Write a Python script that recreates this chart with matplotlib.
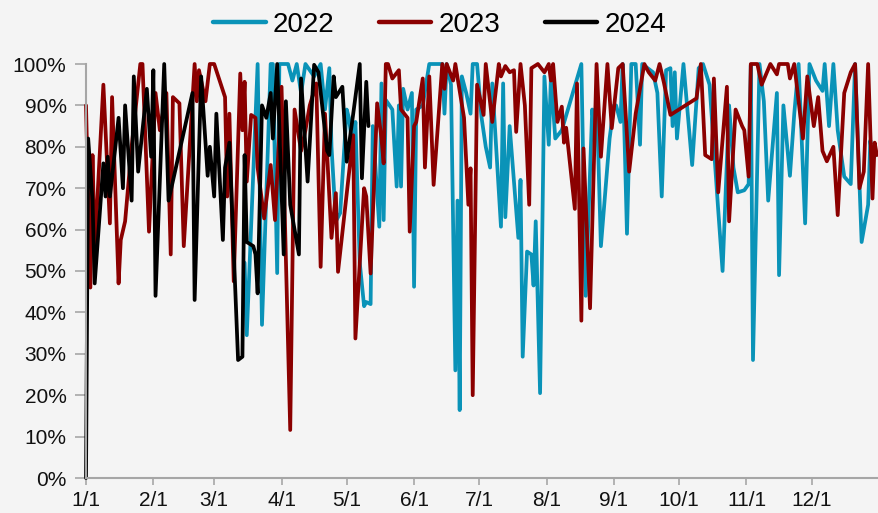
import matplotlib
matplotlib.use("Agg")
import matplotlib.pyplot as plt
from matplotlib import font_manager as fm
from matplotlib.ticker import FuncFormatter
import numpy as np

# ---------------- data (day of year, value %) ----------------
d22 = [73, 74, 79, 81, 85, 86, 88, 89, 93, 95, 97, 99, 101, 105, 108, 110, 112, 113, 115, 117,
       120, 121, 123, 124, 126, 128, 129, 131, 132, 135, 136, 137, 138, 141, 143, 144, 145, 146, 148, 150,
       151, 152, 155, 158, 160, 164, 165, 166, 168, 170, 171, 172, 173, 175, 177, 178, 180, 182, 184, 186,
       187, 191, 192, 193, 195, 199, 200, 201, 203, 205, 206, 207, 209, 211, 213, 214, 216, 219, 228, 230,
       233, 234, 235, 237, 241, 243, 244, 246, 247, 249, 251, 253, 255, 256, 261, 263, 265, 267, 269, 270,
       271, 272, 275, 279, 282, 284, 287, 291, 293, 296, 298, 300, 303, 305, 306, 307, 310, 312, 314, 318,
       319, 321, 324, 326, 328, 331, 333, 336, 339, 340, 342, 344, 346, 349, 352, 354, 357, 360, 361, 362, 364]
v22 = [52, 34.5, 100, 37, 100, 100, 49.5, 100, 100, 96, 100, 93, 100, 97, 100, 89, 99, 80, 62, 64,
       89, 87, 79, 86, 52, 41.5, 42.5, 42, 85, 60.7, 95.3, 62.3, 91.3, 89, 70.4, 90, 70.4, 94, 89, 93,
       46.2, 89, 90, 100, 100, 100, 88, 100, 95, 26, 67, 16.4, 97, 93, 88, 100, 100, 87.3, 80, 75,
       95.3, 60.7, 95.3, 63, 85, 58, 72, 29.3, 54.7, 54, 46.5, 62, 20.5, 97, 80.5, 97, 82, 84, 100, 44,
       89, 84, 92.5, 56, 82, 90, 90, 86, 100, 59, 100, 100, 80.5, 100, 98, 93, 68, 98.5, 99, 85,
       98, 82, 100, 75.6, 99, 100, 95, 64.7, 50, 90, 75, 69, 69.5, 71, 99.7, 28.5, 100, 91, 67, 93,
       49, 90, 73, 88, 100, 61.5, 100, 96, 93.5, 100, 85, 100, 84, 72.8, 71, 100, 57, 66, 81.5, 77, 78.5]

d23 = [0, 2, 3, 4, 8, 11, 12, 15, 16, 18, 21, 25, 26, 29, 32, 34, 37, 39, 40, 43,
       45, 50, 51, 52, 55, 57, 59, 64, 65, 66, 68, 71, 72, 73, 74, 76, 78, 79, 82, 85,
       87, 90, 94, 96, 99, 101, 103, 106, 108, 110, 113, 115, 116, 123, 124, 126, 128, 129, 131, 134,
       136, 137, 138, 139, 141, 144, 145, 148, 149, 151, 152, 155, 156, 158, 160, 164, 165, 166, 169, 170,
       174, 176, 177, 178, 180, 183, 184, 187, 190, 191, 193, 195, 197, 198, 200, 202, 204, 205, 208, 211,
       213, 214, 215, 217, 219, 220, 221, 225, 226, 228, 229, 232, 235, 237, 240, 242, 245, 247, 250, 253,
       257, 259, 262, 264, 266, 269, 281, 283, 285, 288, 289, 291, 295, 296, 299, 302, 303, 305, 306, 309,
       311, 315, 318, 319, 323, 324, 326, 330, 332, 335, 337, 339, 341, 344, 346, 349, 352, 354, 356, 358,
       360, 362, 363, 364]
v23 = [90, 46, 78, 55, 95, 61.5, 92, 47, 57.5, 62, 80, 100, 100, 59.5, 93, 84, 93, 54, 92, 90.5,
       56, 100, 91, 98.5, 91, 100, 100, 92, 68, 88, 47.5, 97.7, 84, 95.7, 71.6, 87.7, 87, 75, 62.7, 75.6,
       62.3, 94.5, 11.6, 89, 79, 84, 90, 95.3, 51, 88, 58, 68.8, 49.8, 82.8, 33.7, 52, 70, 68, 49.4, 90.5,
       82, 76, 100, 100, 96.5, 98.5, 89, 87, 59.5, 85, 86, 96.5, 75, 97, 70.8, 100, 94, 100, 96, 100,
       87, 66, 74.8, 20, 95, 87.7, 100, 86, 100, 97, 99.5, 98, 98.5, 83.6, 100, 90, 66, 99, 100, 98,
       100, 96, 100, 86, 89.7, 81, 84.6, 65, 95.3, 38, 79.6, 41, 100, 77.6, 100, 84.5, 99, 100, 74, 88,
       100, 98, 96, 100, 95.5, 87.7, 91.7, 100, 78, 77, 96.5, 69, 94.5, 62, 89, 85, 84, 72.8, 100, 100,
       95, 100, 97.5, 100, 100, 96.5, 100, 82, 97, 85, 92, 79, 76.5, 80, 63.5, 93, 98, 100, 70, 74,
       100, 67.5, 81, 78]

d24 = [0, 1, 3, 4, 8, 9, 10, 11, 15, 17, 18, 21, 22, 24, 28, 30, 31, 32, 36, 38,
       49, 50, 53, 56, 57, 59, 60, 63, 64, 66, 70, 72, 73, 74, 77, 78, 79, 81, 83, 85,
       86, 88, 91, 92, 94, 96, 98, 99, 102, 105, 107, 111, 112, 114, 115, 118, 120, 123, 126, 127,
       129, 130]
v24 = [0, 82, 67, 47, 76, 68, 77.6, 68, 87, 70, 90, 67, 97, 74, 94, 77.6, 98.5, 44, 100, 67,
       93, 43, 97, 73, 80, 68, 88, 57.5, 75, 81, 28.5, 29.3, 78, 57, 56, 54, 44.6, 90, 87, 93,
       82, 100, 54, 91, 66, 60, 54, 96.5, 71.6, 99.8, 98, 79, 78, 97, 92, 94.5, 76.4, 88, 100, 72.4,
       95.7, 85]

month_days = [0, 31, 59, 90, 120, 151, 181, 212, 243, 273, 304, 334]
month_labels = ["1/1", "2/1", "3/1", "4/1", "5/1", "6/1", "7/1", "8/1", "9/1", "10/1", "11/1", "12/1"]
series_names = ["2022", "2023", "2024"]

# ---------------- style ----------------
avail = {f.name for f in fm.fontManager.ttflist}
fam = "Liberation Sans Narrow" if "Liberation Sans Narrow" in avail else "Liberation Sans"
plt.rcParams["font.family"] = [fam, "DejaVu Sans"]

bg = "#f4f4f4"
colors = ["#0a93b8", "#8b0000", "#000000"]

fig = plt.figure(figsize=(8.79, 5.13), dpi=100, facecolor=bg)
ax = fig.add_axes([86 / 879, 35 / 513, 1 - 86 / 879, (478 - 64) / 513])
ax.set_facecolor(bg)

for d, v, c, n in zip([d22, d23, d24], [v22, v23, v24], colors, series_names):
    ax.plot(d, np.array(v) / 100.0, color=c, lw=2.7, label=n, clip_on=False,
            solid_joinstyle="round", solid_capstyle="round")

ax.set_xlim(0, 365)
ax.set_ylim(0, 1)
ax.set_yticks(np.arange(0, 1.01, 0.1))
ax.yaxis.set_major_formatter(FuncFormatter(lambda y, _: f"{y * 100:.0f}%"))
ax.set_xticks(month_days)
ax.set_xticklabels(month_labels)

for s in ["top", "right"]:
    ax.spines[s].set_visible(False)
for s in ["left", "bottom"]:
    ax.spines[s].set_color("#a6a6a6")
    ax.spines[s].set_linewidth(1.5)

ax.tick_params(axis="y", length=8, width=1.2, color="#a6a6a6", labelsize=15, pad=6, labelcolor="#111111")
ax.tick_params(axis="x", length=5, width=1.2, color="#a6a6a6", labelsize=15, pad=4, labelcolor="#111111")

leg = fig.legend(loc="center", bbox_to_anchor=(0.5, 1 - 25 / 513), ncol=3, frameon=False,
                 fontsize=20, handlelength=1.9, columnspacing=1.6, handletextpad=0.25)
for h in leg.get_lines():
    h.set_linewidth(3.2)

fig.savefig("out.png", dpi=100, facecolor=bg)
